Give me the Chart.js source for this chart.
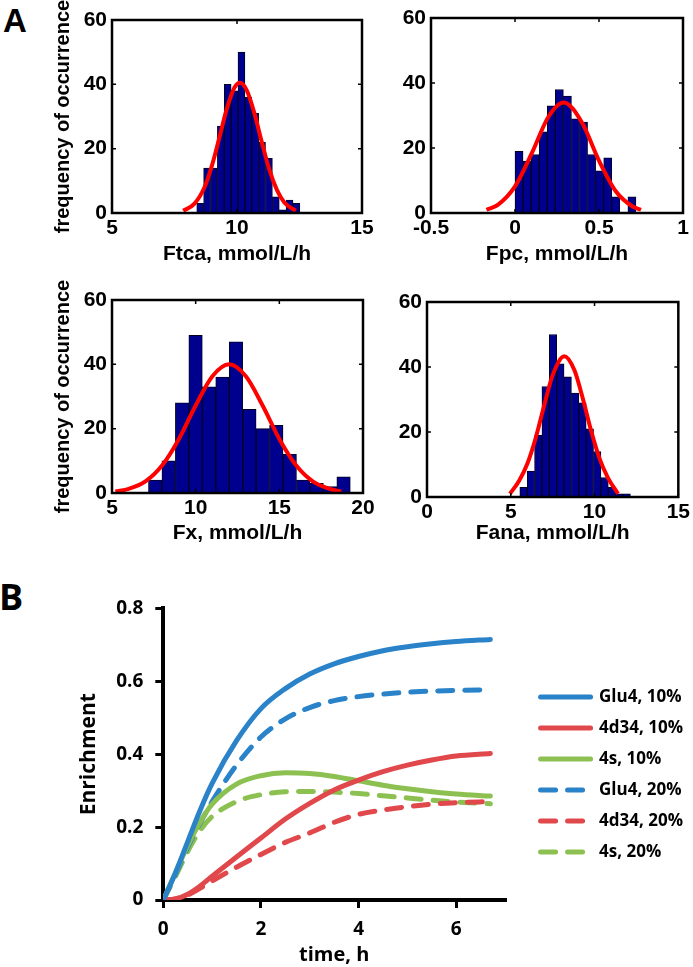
<!DOCTYPE html>
<html>
<head>
<meta charset="utf-8">
<script src="https://cdn.jsdelivr.net/npm/chart.js@4.4.1/dist/chart.umd.min.js"></script>
<style>
  html, body { margin: 0; padding: 0; background: #fff; overflow: hidden; }
  body { width: 693px; height: 967px; position: relative; }
  canvas { position: absolute; }
  .tag { position: absolute; font-weight: bold; line-height: 1; color: #000; }
</style>
</head>
<body>
<div class="tag" style="left:3px; top:4px; font-family:'Liberation Sans', Arial, sans-serif; font-size:33px;">A</div>
<div class="tag" style="left:-1px; top:579px; font-family:'Open Sans', sans-serif; font-size:36px;">B</div>

<canvas id="hFtca" width="345" height="267" style="left:40px; top:0px;"></canvas>
<canvas id="hFpc" width="303" height="267" style="left:390px; top:0px;"></canvas>
<canvas id="hFx" width="345" height="266" style="left:40px; top:280px;"></canvas>
<canvas id="hFana" width="307" height="266" style="left:386px; top:280px;"></canvas>
<canvas id="enrich" width="633" height="382" style="left:60px; top:585px;"></canvas>

<script>
// ---- panel A: histogram bin centres / counts and the fitted red curves ----
const ftcaBins   = [8.528, 8.803, 9.078, 9.353, 9.628, 9.903, 10.178, 10.453, 10.728, 11.003, 11.278, 11.553, 11.828, 12.103, 12.378];
const ftcaCounts = [3, 14, 14, 27, 40, 38, 50, 36, 31, 22, 17, 5, 1, 4, 3];
const ftcaFitX   = [7.85, 8.3, 8.7, 9.0, 9.3, 9.6, 9.9, 10.12, 10.4, 10.7, 11.0, 11.3, 11.6, 11.9, 12.35];
const ftcaFitY   = [0.7, 2.9, 8.0, 14.8, 23.6, 32.6, 39.0, 40.5, 38.0, 30.9, 21.8, 13.3, 7.1, 3.2, 0.7];

const fpcBins   = [0.024, 0.072, 0.120, 0.168, 0.216, 0.264, 0.312, 0.360, 0.408, 0.456, 0.504, 0.552, 0.600, 0.648, 0.696];
const fpcCounts = [19, 16, 18, 25, 33, 38, 36, 29, 28, 18, 13, 17, 5, 0, 5];
const fpcFitX   = [-0.17, -0.1, 0.0, 0.1, 0.2, 0.29, 0.4, 0.5, 0.6, 0.7, 0.75];
const fpcFitY   = [1.0, 2.6, 8.2, 18.4, 29.7, 34.0, 27.7, 16.1, 6.7, 2.0, 1.0];

const fxBins   = [7.582, 8.386, 9.190, 9.994, 10.798, 11.602, 12.406, 13.210, 14.014, 14.818, 15.622, 16.426, 17.230, 18.034, 18.838];
const fxCounts = [4, 10, 28, 49, 33, 36, 47, 26, 20, 21, 12, 4, 3, 2, 5];
const fxFitX   = [5.2, 6, 7, 8, 9, 10, 11, 12, 13, 14, 15, 16, 17, 18, 18.7];
const fxFitY   = [0.5, 1.3, 3.6, 8.6, 16.8, 27.2, 36.3, 40.0, 36.3, 27.2, 16.8, 8.6, 3.6, 1.3, 0.5];

const fanaBins   = [5.76, 6.20, 6.64, 7.08, 7.52, 7.96, 8.40, 8.84, 9.28, 9.72, 10.16, 10.60, 11.04, 11.48, 11.92];
const fanaCounts = [3, 8, 19, 34, 50, 41, 37, 32, 29, 21, 14, 6, 3, 1, 1];
const fanaFitX   = [4.95, 5.5, 6.0, 6.5, 7.0, 7.5, 8.2, 8.8, 9.3, 9.8, 10.3, 10.8, 11.4];
const fanaFitY   = [1.0, 5.0, 10.4, 18.4, 28.3, 37.5, 43.3, 39.0, 30.3, 20.3, 11.8, 5.9, 1.0];

const ftcaTicks = [5, 10, 15];
const fpcTicks  = [-0.5, 0, 0.5, 1];
const fxTicks   = [5, 10, 15, 20];
const fanaTicks = [0, 5, 10, 15];
const freqTicks = [0, 20, 40, 60];

// ---- panel B: enrichment curves ----
const timeH    = [0, 0.25, 0.5, 0.75, 1, 1.5, 2, 2.5, 3, 3.5, 4, 4.5, 5, 5.5, 6, 6.7];
const glu4_10  = [0, 0.075, 0.16, 0.245, 0.32, 0.437, 0.525, 0.58, 0.62, 0.648, 0.668, 0.684, 0.695, 0.703, 0.709, 0.715];
const d434_10  = [0, 0.003, 0.016, 0.038, 0.065, 0.118, 0.17, 0.222, 0.265, 0.302, 0.329, 0.352, 0.37, 0.384, 0.395, 0.402];
const s4_10    = [0, 0.075, 0.15, 0.213, 0.263, 0.318, 0.341, 0.349, 0.347, 0.339, 0.327, 0.315, 0.305, 0.297, 0.291, 0.285];
const glu4_20  = [0, 0.07, 0.145, 0.21, 0.27, 0.37, 0.447, 0.497, 0.528, 0.547, 0.558, 0.565, 0.57, 0.573, 0.575, 0.577];
const d434_20  = [0, 0.003, 0.014, 0.032, 0.052, 0.09, 0.125, 0.158, 0.184, 0.213, 0.235, 0.247, 0.256, 0.263, 0.267, 0.27];
const s4_20    = [0, 0.065, 0.133, 0.19, 0.229, 0.27, 0.289, 0.297, 0.298, 0.296, 0.292, 0.286, 0.28, 0.274, 0.269, 0.264];
const seriesLabels = ['Glu4, 10%', '4d34, 10%', '4s, 10%', 'Glu4, 20%', '4d34, 20%', '4s, 20%'];
const timeTicks = [0, 2, 4, 6];
const enrichTicks = [0, 0.2, 0.4, 0.6, 0.8];

const BLUE = '#2a82c9', RED = '#e0484b', GREEN = '#8cc152';

function pairs(xs, ys) {
  return xs.map((x, i) => ({ x: x, y: ys[i] }));
}

// matlab style box with inward ticks on all four sides
const boxPlugin = {
  id: 'matlabBox',
  afterDatasetsDraw(chart) {
    const ctx = chart.ctx, a = chart.chartArea, x = chart.scales.x, y = chart.scales.y;
    ctx.save();
    ctx.strokeStyle = '#000';
    ctx.lineWidth = 1.5;
    ctx.beginPath();
    x.ticks.forEach(t => {
      const px = x.getPixelForValue(t.value);
      ctx.moveTo(px, a.bottom); ctx.lineTo(px, a.bottom - 4);
      ctx.moveTo(px, a.top); ctx.lineTo(px, a.top + 4);
    });
    y.ticks.forEach(t => {
      const py = y.getPixelForValue(t.value);
      ctx.moveTo(a.left, py); ctx.lineTo(a.left + 4, py);
      ctx.moveTo(a.right, py); ctx.lineTo(a.right - 4, py);
    });
    ctx.stroke();
    ctx.lineWidth = 2.5;
    ctx.strokeRect(a.left, a.top, a.right - a.left, a.bottom - a.top);
    ctx.restore();
  }
};

const histFont = 'Liberation Sans';

function histogram(id, o) {
  new Chart(document.getElementById(id), {
    type: 'bar',
    data: {
      datasets: [
        {
          type: 'line',
          data: pairs(o.fitX, o.fitY),
          borderColor: '#ff0000',
          borderWidth: 4,
          pointRadius: 0,
          cubicInterpolationMode: 'monotone',
          order: 0
        },
        {
          type: 'bar',
          data: pairs(o.bins, o.counts),
          backgroundColor: '#00008f',
          borderColor: '#000020',
          borderWidth: 1,
          barPercentage: 1,
          categoryPercentage: 1,
          order: 1
        }
      ]
    },
    options: {
      responsive: false,
      animation: false,
      layout: { padding: o.pad },
      plugins: { legend: { display: false }, tooltip: { enabled: false } },
      scales: {
        x: {
          type: 'linear',
          offset: false,
          min: o.xTicks[0],
          max: o.xTicks[o.xTicks.length - 1],
          afterBuildTicks: s => { s.ticks = o.xTicks.map(v => ({ value: v })); },
          afterFit: s => { s.height = o.xH; },
          grid: { display: false, drawTicks: false },
          border: { display: false },
          ticks: { color: '#000', padding: 3, maxRotation: 0, autoSkip: false,
                   callback: v => String(v),
                   font: { family: histFont, size: 21, weight: 'bold' } },
          title: { display: true, text: o.xTitle, color: '#000', padding: 0,
                   font: { family: histFont, size: 21, weight: 'bold' } }
        },
        y: {
          min: 0,
          max: 60,
          afterBuildTicks: s => { s.ticks = freqTicks.map(v => ({ value: v })); },
          afterFit: s => { s.width = o.yW; },
          grid: { display: false, drawTicks: false },
          border: { display: false },
          ticks: { color: '#000', padding: 5,
                   font: { family: histFont, size: 21, weight: 'bold' } },
          title: {
            display: !!o.yTitle,
            text: o.yTitle || '',
            color: '#000',
            padding: { top: 11, bottom: 0 },
            font: { family: histFont, size: 20, weight: 'bold' }
          }
        }
      }
    },
    plugins: [boxPlugin]
  });
}

histogram('hFtca', { bins: ftcaBins, counts: ftcaCounts, fitX: ftcaFitX, fitY: ftcaFitY, xTicks: ftcaTicks,
  xTitle: 'Ftca, mmol/L/h', yTitle: 'frequency of occurrence', pad: { top: 20, right: 23, left: 0, bottom: 0 }, yW: 72, xH: 54 });
histogram('hFpc', { bins: fpcBins, counts: fpcCounts, fitX: fpcFitX, fitY: fpcFitY, xTicks: fpcTicks,
  xTitle: 'Fpc, mmol/L/h', pad: { top: 18, right: 10, left: 0, bottom: 0 }, yW: 41, xH: 54 });
histogram('hFx', { bins: fxBins, counts: fxCounts, fitX: fxFitX, fitY: fxFitY, xTicks: fxTicks,
  xTitle: 'Fx, mmol/L/h', yTitle: 'frequency of occurrence', pad: { top: 20, right: 22, left: 0, bottom: 0 }, yW: 72, xH: 53 });
histogram('hFana', { bins: fanaBins, counts: fanaCounts, fitX: fanaFitX, fitY: fanaFitY, xTicks: fanaTicks,
  xTitle: 'Fana, mmol/L/h', pad: { top: 22, right: 12, left: 0, bottom: 0 }, yW: 41, xH: 49 });

// ---- panel B ----
const bFont = 'Open Sans';
const curves = [glu4_10, d434_10, s4_10, glu4_20, d434_20, s4_20];
const colors = [BLUE, RED, GREEN, BLUE, RED, GREEN];

// legend sits right of the plot; size the spacer so the plot ends at x = 505 on the page
const legendPad = 14, legendLine = 50, legendFont = 17;
const mctx = document.createElement('canvas').getContext('2d');
mctx.font = 'bold ' + legendFont + 'px "Open Sans"';
const widestLabel = Math.max(...seriesLabels.map(s => mctx.measureText(s).width));
const legendWidth = legendPad + legendLine + legendFont / 2 + widestLabel + 10;
const spacerWidth = Math.max(0, 633 - 445 - legendWidth);

new Chart(document.getElementById('enrich'), {
  type: 'line',
  data: {
    datasets: curves.map((c, i) => ({
      label: seriesLabels[i],
      data: pairs(timeH, c),
      borderColor: colors[i],
      backgroundColor: colors[i],
      borderWidth: 5,
      borderDash: i < 3 ? [] : [15, 12],
      borderCapStyle: 'round',
      pointRadius: 0,
      pointBorderWidth: 5,
      cubicInterpolationMode: 'monotone'
    }))
  },
  options: {
    responsive: false,
    animation: false,
    layout: { padding: { top: 20, right: 0, bottom: 0, left: 0 } },
    plugins: {
      tooltip: { enabled: false },
      legend: {
        position: 'right',
        align: 'start',
        maxWidth: 400,
        title: { display: true, text: '', font: { size: 10, lineHeight: 1 }, padding: { top: 59.5, bottom: 0 } },
        labels: {
          usePointStyle: true,
          pointStyle: 'line',
          pointStyleWidth: legendLine,
          padding: legendPad,
          color: '#000',
          font: { family: bFont, size: legendFont, weight: 'bold' },
          generateLabels: chart => Chart.defaults.plugins.legend.labels.generateLabels(chart).map(item => {
            const ds = chart.data.datasets[item.datasetIndex];
            item.lineDash = ds.borderDash;
            item.lineWidth = ds.borderWidth;
            item.lineCap = 'round';
            item.strokeStyle = ds.borderColor;
            return item;
          })
        }
      }
    },
    scales: {
      x: {
        type: 'linear',
        min: 0,
        max: 7,
        afterBuildTicks: s => { s.ticks = timeTicks.map(v => ({ value: v })); },
        afterFit: s => { s.height = 67; },
        grid: { display: true, drawOnChartArea: false, color: '#000', lineWidth: 3, tickLength: 8 },
        border: { color: '#000', width: 4 },
        ticks: { color: '#000', padding: 10, font: { family: bFont, size: 19, weight: 'bold' } },
        title: { display: true, text: 'time, h', color: '#000', padding: 0,
                 font: { family: bFont, size: 20, weight: 'bold' } }
      },
      y: {
        min: 0,
        max: 0.8,
        afterBuildTicks: s => { s.ticks = enrichTicks.map(v => ({ value: v })); },
        afterFit: s => { s.width = 103.3; },
        grid: { display: true, drawOnChartArea: false, color: '#000', lineWidth: 3, tickLength: 8 },
        border: { color: '#000', width: 4 },
        ticks: { color: '#000', padding: 12, font: { family: bFont, size: 19, weight: 'bold' } },
        title: { display: true, text: 'Enrichment', color: '#000', padding: { top: 16.4, bottom: 0 },
                 font: { family: bFont, size: 21, weight: 'bold' } }
      },
      spacer: {
        type: 'linear',
        position: 'right',
        display: true,
        weight: 0,
        grid: { display: false, drawTicks: false },
        border: { display: false },
        ticks: { display: false },
        afterFit: s => { s.width = spacerWidth; }
      }
    }
  }
});
</script>
</body>
</html>
